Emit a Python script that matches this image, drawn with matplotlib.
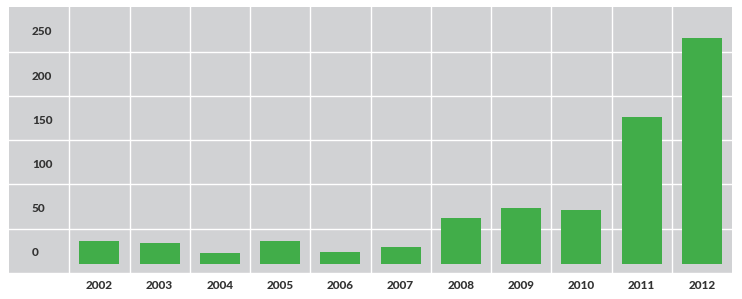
import matplotlib
matplotlib.use("Agg")
import matplotlib.pyplot as plt

years = ["2002", "2003", "2004", "2005", "2006", "2007", "2008", "2009", "2010", "2011", "2012"]
values = [26, 24, 12.5, 26, 13.5, 19, 52, 63, 61, 166, 256]
y_labels = ["0", "50", "100", "150", "200", "250"]

fig = plt.figure(figsize=(7.42, 2.99), dpi=100)
ax = fig.add_axes([9/742, 25/299, 723/742, 267/299])
ax.set_facecolor("#d1d2d4")

x = list(range(len(years)))
ax.bar(x, values, width=0.66, color="#41ad49", zorder=3)

ax.set_xlim(-1.5, len(years) - 0.5)
ax.set_ylim(-11.3, 290.7)

# grid lines
for k in range(len(years)):
    ax.axvline(k - 0.5, color="white", lw=1.0, zorder=1)
for k in range(6):
    ax.axhline(-10 + 50 * k, color="white", lw=1.0, zorder=1)

font = dict(fontsize=8.5, fontweight=900, color="#333333", family="Lato")

# y labels placed in the left column, left-aligned
for k, lab in enumerate(y_labels):
    ax.text(-1.12, 12.5 + 50 * k, lab, ha="left", va="center", **font)

ax.set_xticks(x)
ax.set_xticklabels(years, **font)
ax.tick_params(axis="x", length=0, pad=4)
ax.set_yticks([])
for s in ax.spines.values():
    s.set_visible(False)

fig.savefig("out.png", dpi=100)
